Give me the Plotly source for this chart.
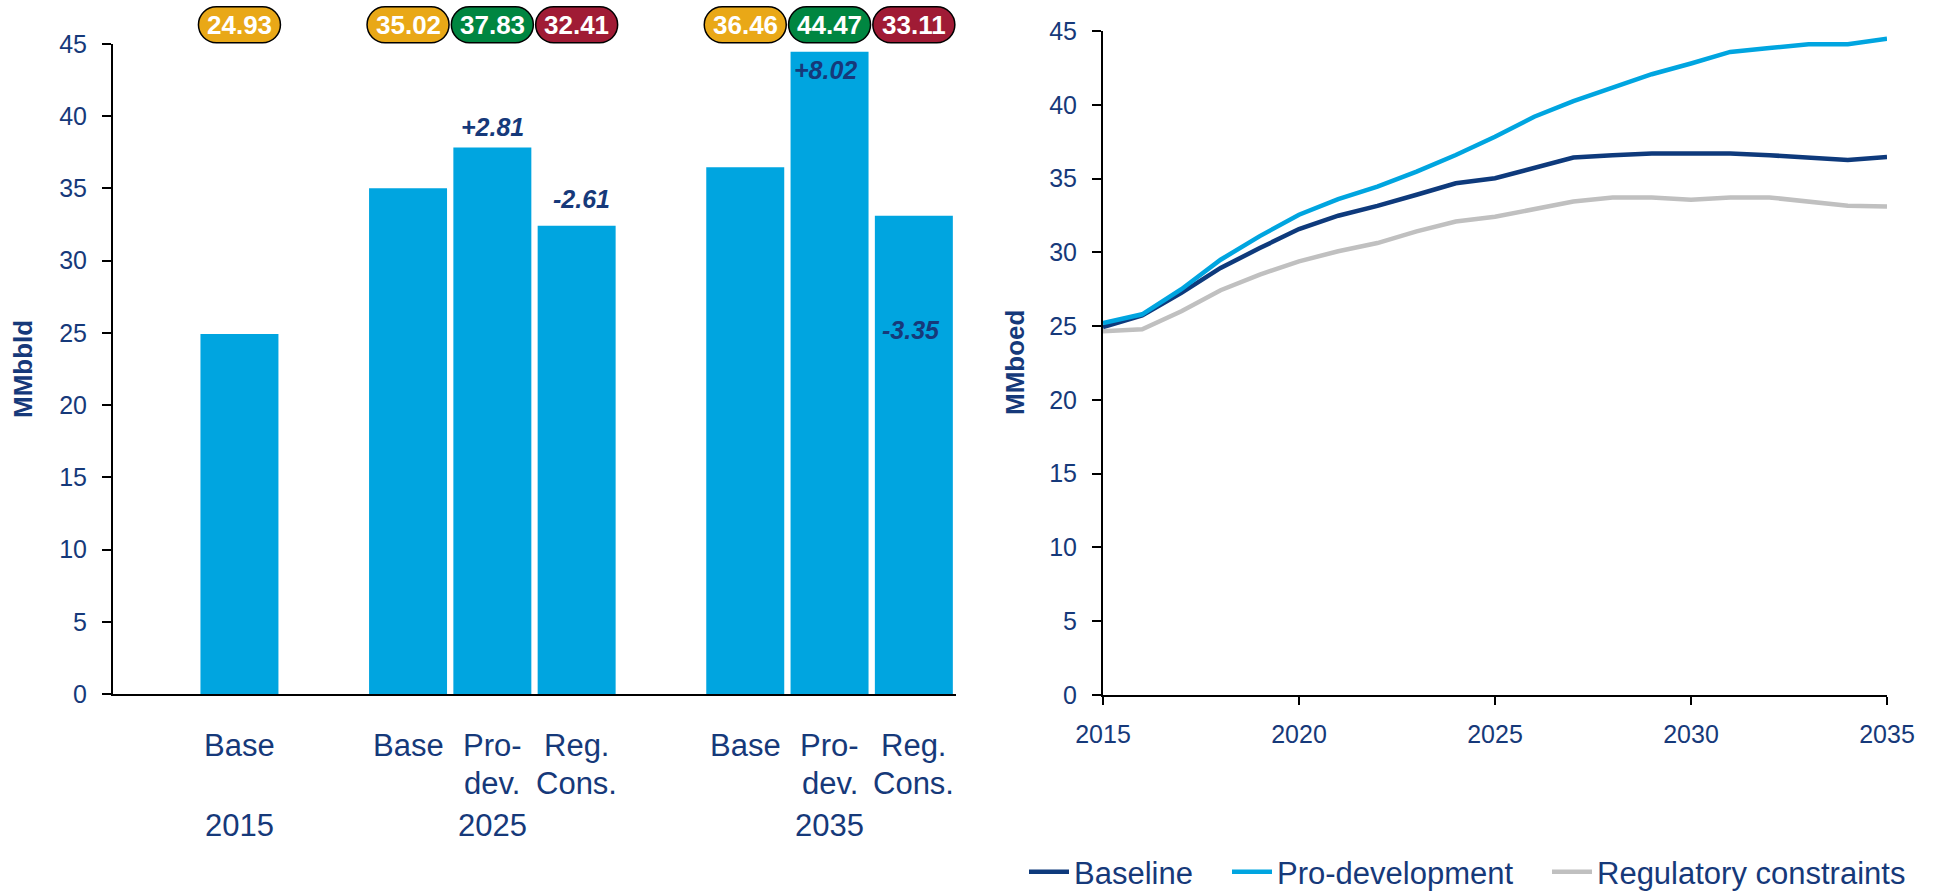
import plotly.graph_objects as go

# ---------------- data ----------------
# Left panel: output by scenario for three snapshot years
group_years = ["2015", "2025", "2035"]
group_scenarios = [
    ["Base"],
    ["Base", "Pro-dev.", "Reg. Cons."],
    ["Base", "Pro-dev.", "Reg. Cons."],
]
bar_values = [24.93, 35.02, 37.83, 32.41, 36.46, 44.47, 33.11]
delta_values = [None, None, 2.81, -2.61, None, 8.02, -3.35]

# Right panel: annual path of each scenario
years = list(range(2015, 2036))
baseline = [24.93, 25.72, 27.25, 28.94, 30.29, 31.58, 32.48, 33.15, 33.90, 34.68,
            35.02, 35.74, 36.42, 36.58, 36.69, 36.69, 36.69, 36.58, 36.44, 36.26, 36.46]
pro_development = [25.20, 25.80, 27.50, 29.50, 31.10, 32.55, 33.60, 34.46, 35.47, 36.60,
                   37.83, 39.19, 40.25, 41.17, 42.07, 42.80, 43.58, 43.85, 44.10, 44.10, 44.47]
regulatory = [24.66, 24.78, 26.01, 27.43, 28.49, 29.39, 30.07, 30.63, 31.42, 32.09,
              32.41, 32.93, 33.45, 33.72, 33.72, 33.56, 33.72, 33.72, 33.45, 33.15, 33.11]
series_names = ["Baseline", "Pro-development", "Regulatory constraints"]

# ---------------- style ----------------
W, H = 1933, 893
FONT = "Liberation Sans, Arial, sans-serif"
NAVY = "#16397A"
BAR_BLUE = "#00A5E0"
LINE_NAVY = "#0E3A7C"
LINE_GREY = "#C0C0C0"
BADGE_COLORS = {"Base": "#E9A817", "Pro-dev.": "#008641", "Reg. Cons.": "#A01B35"}
LABEL_LINES = {"Base": ["Base"], "Pro-dev.": ["Pro-", "dev."], "Reg. Cons.": ["Reg.", "Cons."]}
# vertical pixel offset of each change label from its bar top
DELTA_SHIFT = {2: 21, 3: 27, 5: -18, 6: -114}
DELTA_XSHIFT = {2: 0, 3: 5, 5: -4, 6: -3}
# left edge (px) of each legend entry
LEGEND_X = [1024, 1227, 1547]


def py(px):
    """Convert a pixel row (from top) to paper y."""
    return 1 - px / H


def px_x(px):
    return px / W


# slot positions: one empty slot between groups
positions, scen_flat, group_centers = [], [], []
cursor = 1
for scen in group_scenarios:
    centers = [cursor + i + 0.5 for i in range(len(scen))]
    positions += centers
    scen_flat += scen
    group_centers.append(sum(centers) / len(centers))
    cursor += len(scen) + 1
x_max = cursor - 1

fig = go.Figure()

fig.add_trace(go.Bar(
    x=positions, y=bar_values, width=0.925, marker_color=BAR_BLUE,
    marker_line_width=0, showlegend=False, hoverinfo="y",
    xaxis="x", yaxis="y",
))

legend_ids = ["legend", "legend2", "legend3"]
for name, vals, color, lg in zip(series_names,
                                 [baseline, pro_development, regulatory],
                                 [LINE_NAVY, BAR_BLUE, LINE_GREY], legend_ids):
    fig.add_trace(go.Scatter(
        x=years, y=vals, mode="lines", name=name, legend=lg,
        line=dict(color=color, width=4.5), xaxis="x2", yaxis="y2",
    ))

annotations = []
shapes = []

# pill badges with each bar's value
badge_y = py(24.7)
hw, hh = 41, 18
r = hh
k = 0.5523 * r
inner = hw - r
pill = (f"M {-inner},{-hh} L {inner},{-hh} "
        f"C {inner + k},{-hh} {hw},{-k} {hw},0 "
        f"C {hw},{k} {inner + k},{hh} {inner},{hh} "
        f"L {-inner},{hh} "
        f"C {-inner - k},{hh} {-hw},{k} {-hw},0 "
        f"C {-hw},{-k} {-inner - k},{-hh} {-inner},{-hh} Z")
for xpos, val, scen in zip(positions, bar_values, scen_flat):
    shapes.append(dict(
        type="path", xref="x", yref="paper", xsizemode="pixel", ysizemode="pixel",
        xanchor=xpos, yanchor=badge_y, path=pill,
        fillcolor=BADGE_COLORS[scen], line=dict(color="black", width=1.5), layer="above",
    ))
    annotations.append(dict(
        x=xpos, y=badge_y, xref="x", yref="paper", text=f"<b>{val:.2f}</b>",
        showarrow=False, font=dict(family=FONT, size=26, color="white"),
        xanchor="center", yanchor="middle",
    ))

# change vs. base labels
for i, d in enumerate(delta_values):
    if d is None:
        continue
    annotations.append(dict(
        x=positions[i], y=bar_values[i], xref="x", yref="y",
        text=f"<b><i>{d:+.2f}</i></b>", showarrow=False,
        yshift=DELTA_SHIFT[i], xshift=DELTA_XSHIFT[i],
        font=dict(family=FONT, size=25, color=NAVY),
        xanchor="center", yanchor="middle",
    ))

# category labels under bars
line_rows = [745, 783]
for xpos, scen in zip(positions, scen_flat):
    for row, txt in zip(line_rows, LABEL_LINES[scen]):
        annotations.append(dict(
            x=xpos, y=py(row), xref="x", yref="paper", text=txt, showarrow=False,
            font=dict(family=FONT, size=31, color=NAVY), xanchor="center", yanchor="middle",
        ))
for gx, yr in zip(group_centers, group_years):
    annotations.append(dict(
        x=gx, y=py(825), xref="x", yref="paper", text=yr, showarrow=False,
        font=dict(family=FONT, size=31, color=NAVY), xanchor="center", yanchor="middle",
    ))

# axis titles
annotations.append(dict(
    x=px_x(23), y=py(369), xref="paper", yref="paper", text="<b>MMbbld</b>",
    textangle=-90, showarrow=False, font=dict(family=FONT, size=26, color=NAVY),
    xanchor="center", yanchor="middle",
))
annotations.append(dict(
    x=px_x(1015), y=py(363), xref="paper", yref="paper", text="<b>MMboed</b>",
    textangle=-90, showarrow=False, font=dict(family=FONT, size=26, color=NAVY),
    xanchor="center", yanchor="middle",
))

axis_common = dict(
    showgrid=False, zeroline=False, showline=True, linecolor="black", linewidth=2,
    tickfont=dict(family=FONT, size=25, color=NAVY), tickcolor="black", tickwidth=2,
    automargin=False,
)


def legend_at(xpx):
    return dict(orientation="h", x=px_x(xpx), y=py(872), xanchor="left", yanchor="middle",
                font=dict(family=FONT, size=31, color=NAVY), bgcolor="rgba(0,0,0,0)",
                itemwidth=40)


fig.update_layout(
    width=W, height=H,
    margin=dict(l=0, r=0, t=0, b=0, autoexpand=False),
    paper_bgcolor="white", plot_bgcolor="white",
    font=dict(family=FONT, color=NAVY),
    xaxis=dict(domain=[px_x(113), px_x(956)], range=[0, x_max], anchor="y",
               showgrid=False, zeroline=False, showline=True, linecolor="black",
               linewidth=2, showticklabels=False, ticks="", automargin=False),
    yaxis=dict(domain=[py(694), py(44)], range=[0, 45], dtick=5, anchor="x",
               ticks="outside", ticklen=9, ticklabelstandoff=10, **axis_common),
    xaxis2=dict(domain=[px_x(1103), px_x(1887)], range=[2015, 2035], anchor="y2",
                tickvals=[2015, 2020, 2025, 2030, 2035], ticks="outside", ticklen=8,
                ticklabelstandoff=8, **axis_common),
    yaxis2=dict(domain=[py(695), py(31)], range=[0, 45], dtick=5, anchor="x2",
                ticks="outside", ticklen=9, ticklabelstandoff=10, **axis_common),
    legend=legend_at(LEGEND_X[0]),
    legend2=legend_at(LEGEND_X[1]),
    legend3=legend_at(LEGEND_X[2]),
    annotations=annotations,
    shapes=shapes,
    showlegend=True,
)

fig.write_html("out.html")
